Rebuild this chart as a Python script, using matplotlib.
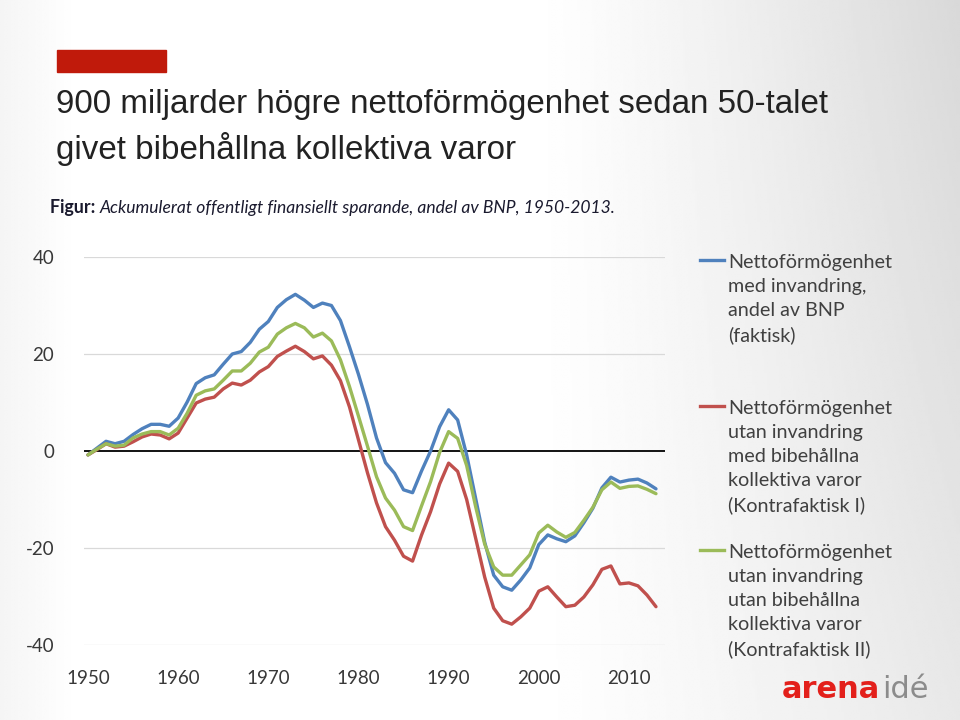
import numpy as np
import matplotlib
matplotlib.use("Agg")
import matplotlib.pyplot as plt
from matplotlib.lines import Line2D
from matplotlib.patches import Rectangle

plt.rcParams["axes.unicode_minus"] = False

# Ackumulerat offentligt finansiellt sparande, andel av BNP
years = list(range(1950, 2014))

faktisk = [
    -0.8, 0.6, 2.0, 1.5, 2.0, 3.4, 4.6, 5.5, 5.5, 5.1,
    6.8, 10.1, 13.9, 15.1, 15.7, 17.9, 20.0, 20.5, 22.4, 25.1,
    26.7, 29.6, 31.2, 32.3, 31.1, 29.6, 30.5, 30.0, 26.9, 21.5,
    15.8, 9.6, 2.7, -2.4, -4.6, -8.0, -8.6, -4.1, 0.0, 5.0,
    8.5, 6.4, -0.8, -9.8, -18.8, -25.6, -28.0, -28.7, -26.6, -24.1,
    -19.3, -17.3, -18.1, -18.7, -17.5, -14.8, -11.8, -7.6, -5.4, -6.4,
    -6.0, -5.8, -6.6, -7.8,
]
kontrafaktisk_1 = [
    -0.8, 0.3, 1.5, 0.8, 1.0, 1.9, 2.9, 3.5, 3.3, 2.5,
    3.7, 6.8, 9.9, 10.7, 11.1, 12.8, 14.0, 13.6, 14.6, 16.3,
    17.4, 19.5, 20.6, 21.6, 20.5, 19.0, 19.6, 17.7, 14.5, 9.1,
    2.3, -4.5, -10.7, -15.6, -18.4, -21.7, -22.7, -17.3, -12.5, -6.8,
    -2.5, -4.2, -10.0, -18.0, -26.0, -32.4, -35.0, -35.7, -34.2, -32.4,
    -28.9, -28.0, -30.1, -32.1, -31.8, -30.1, -27.6, -24.4, -23.7, -27.4,
    -27.2, -27.8, -29.7, -32.1,
]
kontrafaktisk_2 = [
    -0.8, 0.4, 1.5, 1.0, 1.2, 2.7, 3.5, 4.0, 4.0, 3.3,
    4.7, 7.8, 11.5, 12.4, 12.8, 14.6, 16.5, 16.5, 18.1, 20.4,
    21.4, 24.1, 25.4, 26.3, 25.4, 23.5, 24.3, 22.7, 18.8, 13.3,
    7.2, 1.0, -5.3, -9.7, -12.2, -15.6, -16.4, -11.3, -6.3, -0.3,
    4.0, 2.6, -3.0, -11.5, -19.2, -23.9, -25.6, -25.6, -23.5, -21.4,
    -16.9, -15.3, -16.7, -17.8, -16.8, -14.3, -11.6, -8.0, -6.4, -7.7,
    -7.3, -7.2, -7.9, -8.8,
]

labels = [
    "Nettoförmögenhet\nmed invandring,\nandel av BNP\n(faktisk)",
    "Nettoförmögenhet\nutan invandring\nmed bibehållna\nkollektiva varor\n(Kontrafaktisk I)",
    "Nettoförmögenhet\nutan invandring\nutan bibehållna\nkollektiva varor\n(Kontrafaktisk II)",
]
series = [faktisk, kontrafaktisk_1, kontrafaktisk_2]
colors = ["#4f81bd", "#c0504d", "#9bbb59"]

xticks = [1950, 1960, 1970, 1980, 1990, 2000, 2010]
yticks = [-40, -20, 0, 20, 40]

W, H = 960, 720


def fx(px):
    return px / W


def fy(py):
    return 1 - py / H


fig = plt.figure(figsize=(9.6, 7.2), dpi=100)

# bakgrund: ljus gradient som på bilden
bg = fig.add_axes([0, 0, 1, 1], zorder=-10)
gx = np.linspace(0, 1, 400)
gy = np.linspace(0, 1, 300)
GX, GY = np.meshgrid(gx, gy)
shade = 1 - 0.15 * np.clip((GX - 0.55) / 0.45, 0, 1) ** 1.2 * (0.6 + 0.4 * GY)
shade -= 0.04 * np.clip((0.08 - GX) / 0.08, 0, 1)
bg.imshow(shade, cmap="gray", vmin=0, vmax=1, aspect="auto",
          extent=[0, 1, 0, 1], origin="lower")
bg.axis("off")

# röd rektangel överst
fig.patches.append(Rectangle((fx(57), fy(72)), fx(166) - fx(57), fy(50) - fy(72),
                             transform=fig.transFigure, color="#c01a0b"))

fig.text(fx(56), fy(104), "900 miljarder högre nettoförmögenhet sedan 50-talet",
         family="Liberation Sans", fontsize=23.9, color="#222222", va="center")
fig.text(fx(56), fy(149), "givet bibehållna kollektiva varor",
         family="Liberation Sans", fontsize=23.9, color="#222222", va="center")

t1 = fig.text(fx(50), fy(208), "Figur: ", family="Lato", fontsize=12.8,
              fontweight="bold", color="#1a1a2e", va="center")
fig.canvas.draw()
bb = t1.get_window_extent()
fig.text(bb.x1 / W, fy(208),
         "Ackumulerat offentligt finansiellt sparande, andel av BNP, 1950-2013.",
         family="Lato", fontsize=12.6, style="italic", color="#1a1a2e", va="center")

ax = fig.add_axes([fx(83.5), fy(645), fx(665) - fx(83.5), fy(257) - fy(645)])
ax.set_facecolor("none")
for vals, c in zip(series, colors):
    ax.plot(years, vals, color=c, lw=2.4, solid_capstyle="round", zorder=3)

ax.set_xlim(1949.5, 2014)
ax.set_ylim(-40, 40)
ax.set_xticks(xticks)
ax.set_yticks(yticks)
for v in yticks:
    if v == 0:
        ax.axhline(v, color="black", lw=1.3, zorder=2)
    else:
        ax.axhline(v, color="#d9d9d9", lw=0.9, zorder=1)
for s in ax.spines.values():
    s.set_visible(False)
ax.tick_params(length=0, labelsize=13.5, colors="#383838")
ax.tick_params(axis="x", pad=18)
ax.tick_params(axis="y", pad=21)
for lab in ax.get_xticklabels() + ax.get_yticklabels():
    lab.set_family("Lato")

# legend till höger
legend_tops = [262, 408, 552]
for lab, c, top in zip(labels, colors, legend_tops):
    fig.add_artist(Line2D([fx(700), fx(724)], [fy(top - 2), fy(top - 2)],
                          transform=fig.transFigure, color=c, lw=2.4))
    fig.text(fx(728), fy(top - 8), lab, family="Lato", fontsize=14.2,
             color="#404040", va="top", linespacing=1.5)

# logotyp
t2 = fig.text(fx(782), fy(690), "arena", family="DejaVu Sans", fontsize=22,
              fontweight="bold", color="#e3201b", va="center")
fig.canvas.draw()
bb = t2.get_window_extent()
fig.text(bb.x1 / W + 0.002, fy(690), "idé", family="DejaVu Sans", fontsize=22,
         color="#8c8c8c", va="center")

fig.savefig("out.png", dpi=100)
